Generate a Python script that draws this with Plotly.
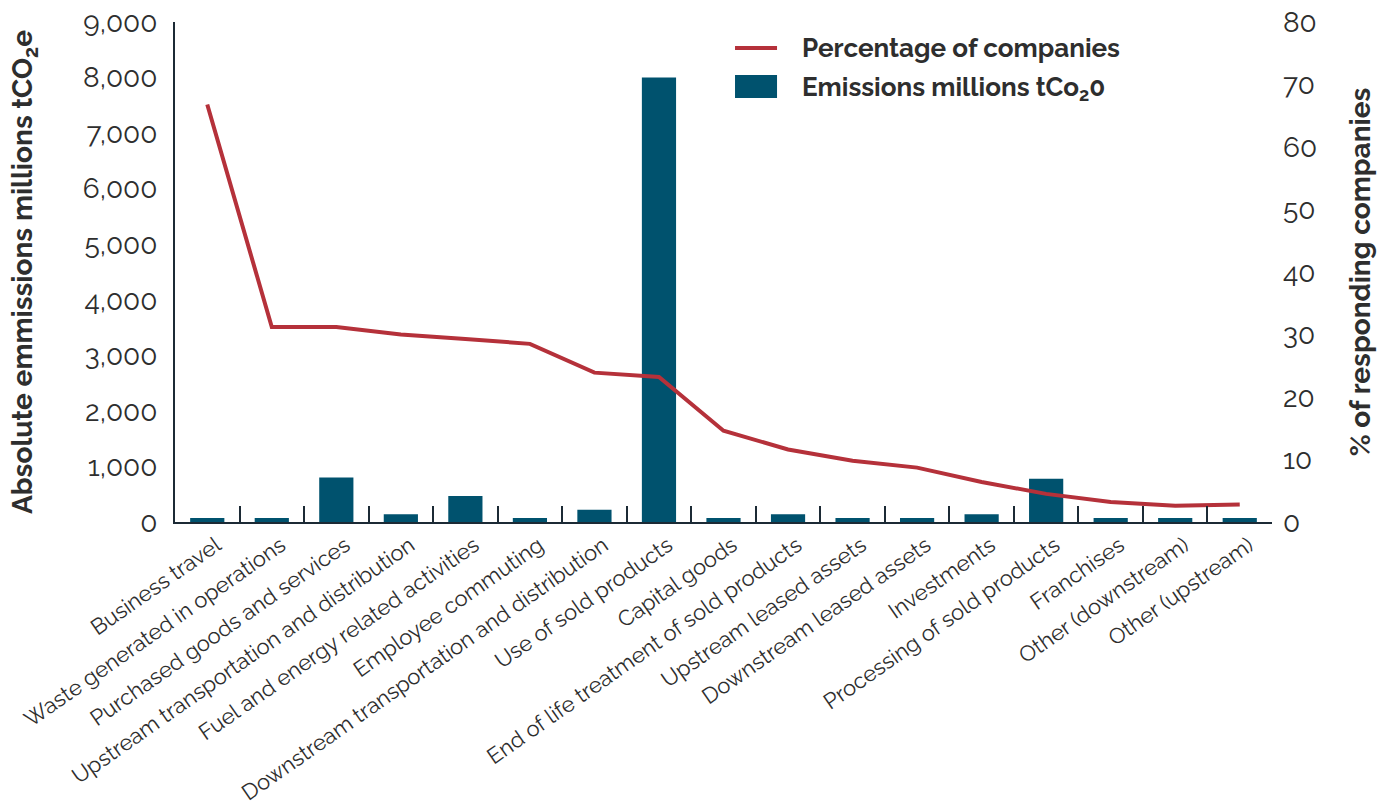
import plotly.graph_objects as go

# Scope 3 categories, left to right
categories = [
    "Business travel",
    "Waste generated in operations",
    "Purchased goods and services",
    "Upstream transportation and distribution",
    "Fuel and energy related activities",
    "Employee commuting",
    "Downstream transportation and distribution",
    "Use of sold products",
    "Capital goods",
    "End of life treatment of sold products",
    "Upstream leased assets",
    "Downstream leased assets",
    "Investments",
    "Processing of sold products",
    "Franchises",
    "Other (downstream)",
    "Other (upstream)",
]

# absolute emissions, millions tCO2e (left axis)
emissions = [70, 70, 800, 140, 470, 70, 220, 8000, 70, 140, 70, 70, 140, 780, 70, 70, 70]

# % of responding companies (right axis)
pct_companies = [66.8, 31.2, 31.2, 30.0, 29.3, 28.5, 23.9, 23.2, 14.6, 11.6,
                 9.8, 8.7, 6.4, 4.5, 3.2, 2.6, 2.8]

left_ticks = [0, 1000, 2000, 3000, 4000, 5000, 6000, 7000, 8000, 9000]
right_ticks = [0, 10, 20, 30, 40, 50, 60, 70, 80]

FONT = "Raleway, Lato, sans-serif"
TEXT = "#2e2e2e"
AXIS = "#1c2a35"
RED = "#b5313a"
BLUE = "#00526e"

fig = go.Figure()

fig.add_trace(go.Bar(
    x=categories, y=emissions,
    name="Emissions millions tCo<sub>2</sub>0",
    marker=dict(color=BLUE, line=dict(width=0)),
    width=0.53,
))
# on y2 so it draws above the bars
fig.add_trace(go.Scatter(
    x=categories, y=pct_companies, yaxis="y2",
    mode="lines", name="Percentage of companies",
    line=dict(color=RED, width=4),
))

# legend drawn by hand so the swatches can be as big as the original ones
legend_font = dict(size=26, family=FONT, color=TEXT, weight="bold")
fig.add_shape(type="line", xref="paper", yref="paper",
              x0=0.5105, x1=0.5488, y0=0.948, y1=0.948,
              line=dict(color=RED, width=4))
fig.add_shape(type="rect", xref="paper", yref="paper",
              x0=0.5105, x1=0.5488, y0=0.848, y1=0.894,
              fillcolor=BLUE, line=dict(width=0))
fig.add_annotation(text="Percentage of companies", xref="paper", yref="paper",
                   x=0.5697, y=0.948, xanchor="left", yanchor="middle",
                   showarrow=False, font=legend_font)
fig.add_annotation(text="Emissions millions tCo<sub>2</sub>0", xref="paper", yref="paper",
                   x=0.5697, y=0.868, xanchor="left", yanchor="middle",
                   showarrow=False, font=legend_font)

fig.update_layout(
    width=1384, height=807,
    margin=dict(l=175, r=112, t=22, b=285),
    paper_bgcolor="white", plot_bgcolor="white",
    font=dict(family=FONT, color=TEXT),
    showlegend=False,
    xaxis=dict(
        type="category", automargin=False,
        showline=True, linecolor=AXIS, linewidth=2,
        ticks="inside", tickson="boundaries", ticklen=16, tickwidth=2, tickcolor=AXIS,
        tickangle=-35, ticklabelshift=9, ticklabeloverflow="allow",
        tickfont=dict(size=22, family=FONT, color=TEXT),
        showgrid=False, zeroline=False,
    ),
    yaxis=dict(
        range=[0, 9000], automargin=False,
        tickvals=left_ticks, tickformat=",d",
        showline=True, linecolor=AXIS, linewidth=2,
        ticks="", showgrid=False, zeroline=False,
        tickfont=dict(size=28, family=FONT, color=TEXT),
        ticklabelstandoff=10, ticklabeloverflow="allow",
        title=dict(text="Absolute emmissions millions tCO<sub>2</sub>e",
                   font=dict(size=28, family=FONT, color=TEXT, weight="bold"),
                   standoff=42),
    ),
    yaxis2=dict(
        range=[0, 80], overlaying="y", side="right", automargin=False,
        tickvals=right_ticks,
        showline=False, ticks="", showgrid=False, zeroline=False,
        tickfont=dict(size=28, family=FONT, color=TEXT),
        ticklabelstandoff=10, ticklabeloverflow="allow",
        title=dict(text="% of responding companies",
                   font=dict(size=28, family=FONT, color=TEXT, weight="bold"),
                   standoff=34),
    ),
)

# drop the default 8px page margin so the figure fills the window exactly
fig.write_html("out.html", config={"displayModeBar": False},
               post_script="document.body.style.margin = '0';")
